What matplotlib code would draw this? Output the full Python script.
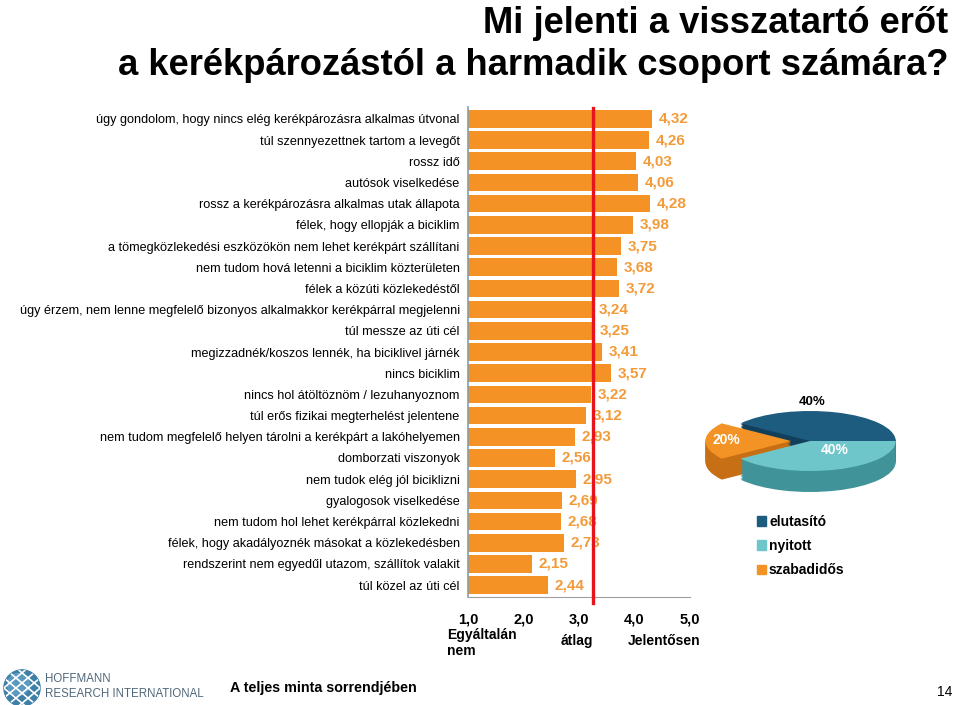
import matplotlib
matplotlib.use("Agg")
import matplotlib.pyplot as plt
from matplotlib.patches import Patch, Circle
from matplotlib import font_manager
import numpy as np

plt.rcParams['font.family'] = ['Liberation Sans', 'DejaVu Sans']

# data
labels = [
    "úgy gondolom, hogy nincs elég kerékpározásra alkalmas útvonal",
    "túl szennyezettnek tartom a levegőt",
    "rossz idő",
    "autósok viselkedése",
    "rossz a kerékpározásra alkalmas utak állapota",
    "félek, hogy ellopják a biciklim",
    "a tömegközlekedési eszközökön nem lehet kerékpárt szállítani",
    "nem tudom hová letenni a biciklim közterületen",
    "félek a közúti közlekedéstől",
    "úgy érzem, nem lenne megfelelő bizonyos alkalmakkor kerékpárral megjelenni",
    "túl messze az úti cél",
    "megizzadnék/koszos lennék, ha biciklivel járnék",
    "nincs biciklim",
    "nincs hol átöltöznöm / lezuhanyoznom",
    "túl erős fizikai megterhelést jelentene",
    "nem tudom megfelelő helyen tárolni a kerékpárt a lakóhelyemen",
    "domborzati viszonyok",
    "nem tudok elég jól biciklizni",
    "gyalogosok viselkedése",
    "nem tudom hol lehet kerékpárral közlekedni",
    "félek, hogy akadályoznék másokat a közlekedésben",
    "rendszerint nem egyedűl utazom, szállítok valakit",
    "túl közel az úti cél",
]
values = [4.32, 4.26, 4.03, 4.06, 4.28, 3.98, 3.75, 3.68, 3.72, 3.24, 3.25,
          3.41, 3.57, 3.22, 3.12, 2.93, 2.56, 2.95, 2.69, 2.68, 2.73, 2.15, 2.44]
avg_value = 3.26
xticks = [1, 2, 3, 4, 5]
xtick_labels = ["1,0", "2,0", "3,0", "4,0", "5,0"]

pie_labels = ["elutasító", "nyitott", "szabadidős"]
pie_shares = [40, 40, 20]
pie_colors = ["#1D5B7F", "#6EC6CA", "#F39325"]
pie_side = ["#123F5A", "#3F9399", "#C76F14"]

orange = "#F49226"
W, H = 960, 705

# Arial Narrow look-alike if there is one, else plain Liberation Sans
installed = {f.name for f in font_manager.fontManager.ttflist}
title_family = ['Liberation Sans']
for name in ['Liberation Sans Narrow', 'Arial Narrow', 'Nimbus Sans Narrow']:
    if name in installed:
        title_family = [name, 'Liberation Sans']
        break

fig = plt.figure(figsize=(9.6, 7.05), dpi=100)

def px(x, y):
    return x / W, 1 - y / H

# title
t1 = fig.text(948 / W, 1 - 33 / H, "Mi jelenti a visszatartó erőt", ha='right', va='baseline',
              fontsize=28, fontweight='bold', family=title_family)
t2 = fig.text(948 / W, 1 - 75 / H, "a kerékpározástól a harmadik csoport számára?", ha='right',
              va='baseline', fontsize=28, fontweight='bold', family=title_family)
renderer = fig.canvas.get_renderer()
wdt = t2.get_window_extent(renderer).width
size = min(32, 28 * 830 / wdt)
t1.set_fontsize(size)
t2.set_fontsize(size)

# bar chart
ax = fig.add_axes([468 / W, 1 - 597 / H, 222 / W, 490 / H])
y = np.arange(len(values))
ax.barh(y, [v - 1 for v in values], left=1, height=0.835, color=orange, zorder=2)
for yi, v in zip(y, values):
    ax.text(v + 0.12, yi, f"{v:.2f}".replace(".", ","), va='center', ha='left',
            fontsize=11, fontweight='bold', color="#F39B3A")
ax.axvline(avg_value, ymin=-0.012, ymax=0.998, color="#E8141B", lw=2.4, zorder=3, clip_on=False)
ax.set_xlim(1, 5)
ax.set_ylim(22.56, -0.56)
ax.set_yticks(y)
ax.set_yticklabels(labels, fontsize=9.05)
ax.set_xticks(xticks)
ax.set_xticklabels(xtick_labels, fontsize=10.5, fontweight='bold')
ax.tick_params(axis='y', length=0, pad=6)
ax.tick_params(axis='x', length=0, pad=11)
for s in ['top', 'right']:
    ax.spines[s].set_visible(False)
ax.spines['left'].set_color("#8A9BB0")
ax.spines['bottom'].set_color("#A0A0A0")
ax.spines['left'].set_linewidth(1.2)

fig.text(447 / W, 1 - 643 / H, "Egyáltalán\nnem", ha='left', va='center', fontsize=10,
         fontweight='bold', linespacing=1.15)
fig.text(577 / W, 1 - 641 / H, "átlag", ha='center', va='center', fontsize=10, fontweight='bold')
fig.text(664 / W, 1 - 641 / H, "Jelentősen", ha='center', va='center', fontsize=10, fontweight='bold')

# 3d-looking pie
pax = fig.add_axes([690 / W, 1 - 510 / H, 240 / W, 120 / H])
depth = 0.7
nlayers = 14
for i in range(nlayers):
    dy = -depth * (1 - i / nlayers)
    pax.pie(pie_shares, colors=pie_side, startangle=144, counterclock=False,
            explode=[0, 0, 0.22], center=(0, dy), wedgeprops=dict(linewidth=0))
wedges, _ = pax.pie(pie_shares, colors=pie_colors, startangle=144, counterclock=False,
                    explode=[0, 0, 0.22], center=(0, 0), wedgeprops=dict(linewidth=0))
pax.set_aspect('auto')
pax.set_xlim(-1.4, 1.4)
pax.set_ylim(-2.3, 1.7)
pax.axis('off')
pax.text(0.03, 1.3, "40%", ha='center', va='center', fontsize=9.5, fontweight='bold')
pax.text(0.29, -0.3, "40%", ha='center', va='center', fontsize=10, fontweight='bold', color='white')
pax.text(-0.97, 0.05, "20%", ha='center', va='center', fontsize=10, fontweight='bold', color='white')

handles = [Patch(color=c) for c in pie_colors]
leg = fig.legend(handles, pie_labels, loc='upper left', bbox_to_anchor=px(744, 502),
                 frameon=False, prop=dict(weight='bold', size=10), handlelength=0.7,
                 handleheight=0.7, handletextpad=0.2, labelspacing=0.75)

# footer
lax = fig.add_axes([3 / W, 1 - 707 / H, 38 / W, 38 / H])
lax.add_patch(Circle((0, 0), 1, color="#3E7FA8"))
lax.add_patch(Circle((-0.2, 0.2), 0.6, color="#6FA9CC", alpha=0.6))
for k in np.linspace(-1.4, 1.4, 6):
    lax.plot([-1.2, 1.2], [k - 1.0, k + 1.0], color='white', lw=1.2)
    lax.plot([-1.2, 1.2], [k + 1.0, k - 1.0], color='white', lw=1.2)
lax.set_xlim(-1.05, 1.05)
lax.set_ylim(-1.05, 1.05)
lax.set_aspect('equal')
lax.axis('off')
for ln in lax.lines:
    ln.set_clip_path(lax.patches[0])

fig.text(45 / W, 1 - 679 / H, "HOFFMANN", ha='left', va='center', fontsize=8.3, color="#50677A")
fig.text(45 / W, 1 - 694 / H, "RESEARCH INTERNATIONAL", ha='left', va='center', fontsize=8.3,
         color="#50677A")
fig.text(230 / W, 1 - 688 / H, "A teljes minta sorrendjében", ha='left', va='center',
         fontsize=10.3, fontweight='bold')
fig.text(945 / W, 1 - 692 / H, "14", ha='center', va='center', fontsize=10)

fig.savefig("out.png", dpi=100)
